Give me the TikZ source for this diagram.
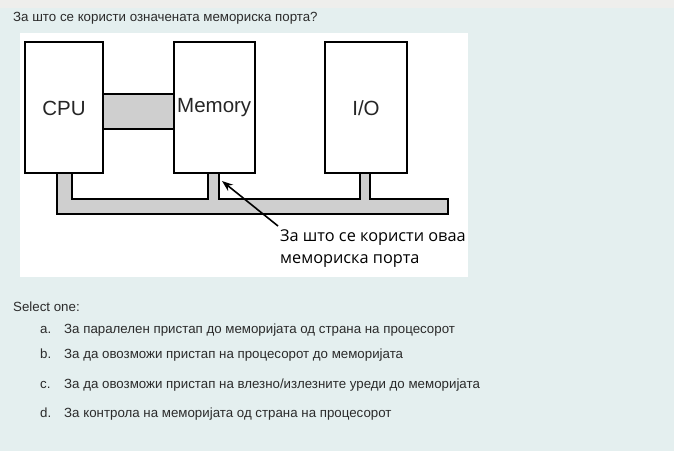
\documentclass[tikz,border=0pt]{standalone}
\usepackage{fontspec}
\setmainfont{Liberation Sans}
\newfontfamily\callfont{Open Sans}
\usetikzlibrary{arrows.meta}
\definecolor{bgc}{HTML}{E4EFEF}
\definecolor{topc}{HTML}{EEEEEC}
\definecolor{busc}{HTML}{CFCFCF}
\definecolor{txt}{HTML}{2B2B2B}
\tikzset{
  unitbox/.style={draw=black, line width=1.1pt, fill=white},
  qtext/.style={anchor=base west, inner sep=0pt, text=txt, font=\fontsize{13.3}{15}\selectfont},
  lbl/.style={inner sep=0pt, font=\fontsize{20.5}{22}\selectfont, text=black!85},
  calltext/.style={anchor=base west, inner sep=0pt, font=\callfont\fontsize{16.3}{18}\selectfont, text=black},
}
\begin{document}
\begin{tikzpicture}[x=1pt,y=-1pt]
\useasboundingbox (0,0) rectangle (674,451);
\fill[bgc] (0,0) rectangle (674,451);
\fill[topc] (0,0) rectangle (674,8);
% white panel
\fill[white] (20,33) rectangle (468,277);
% question
\node[qtext] (qq) at (13,21) {За што се користи означената мемориска порта?};
% bus
\draw[line width=1.1pt, fill=busc] (57,173) -- (57,214) -- (448,214) -- (448,199) -- (370,199) -- (370,173) -- (360,173) -- (360,199) -- (219,199) -- (219,173) -- (208,173) -- (208,199) -- (72,199) -- (72,173) -- cycle;
% cpu-memory link
\draw[line width=1.1pt, fill=busc] (103,94) rectangle (174,129);
% boxes
\draw[unitbox] (25,42) rectangle (103,173);
\draw[unitbox] (174,42) rectangle (255,173);
\draw[unitbox] (325,42) rectangle (407,173);
\node[lbl] (cpu) at (64,108) {CPU};
\node[lbl, anchor=west] (mem) at (177,108) {Memory};
\node[lbl] (io) at (366,108) {I/O};
% callout
\node[calltext] (c1) at (280,241) {За што се користи оваа};
\node[calltext] (c2) at (280,263) {мемориска порта};
\coordinate (port) at (222,181);
\draw[line width=1.6pt, -{Stealth[length=11pt,width=8pt]}] (c1.north west) ++(-2,-3) coordinate (cs) (cs) -- (port);
% answers
\node[qtext] (sel) at (13,311) {Select one:};
\node[qtext] (la) at (40,333) {a.};
\node[qtext] (ta) at (64,333) {За паралелен пристап до меморијата од страна на процесорот};
\node[qtext] (lb) at (40,358) {b.};
\node[qtext] (tb) at (64,358) {За да овозможи пристап на процесорот до меморијата};
\node[qtext] (lc) at (40,388) {c.};
\node[qtext] (tc) at (64,388) {За да овозможи пристап на влезно/излезните уреди до меморијата};
\node[qtext] (ld) at (40,417) {d.};
\node[qtext] (td) at (64,417) {За контрола на меморијата од страна на процесорот};
\end{tikzpicture}
\end{document}
